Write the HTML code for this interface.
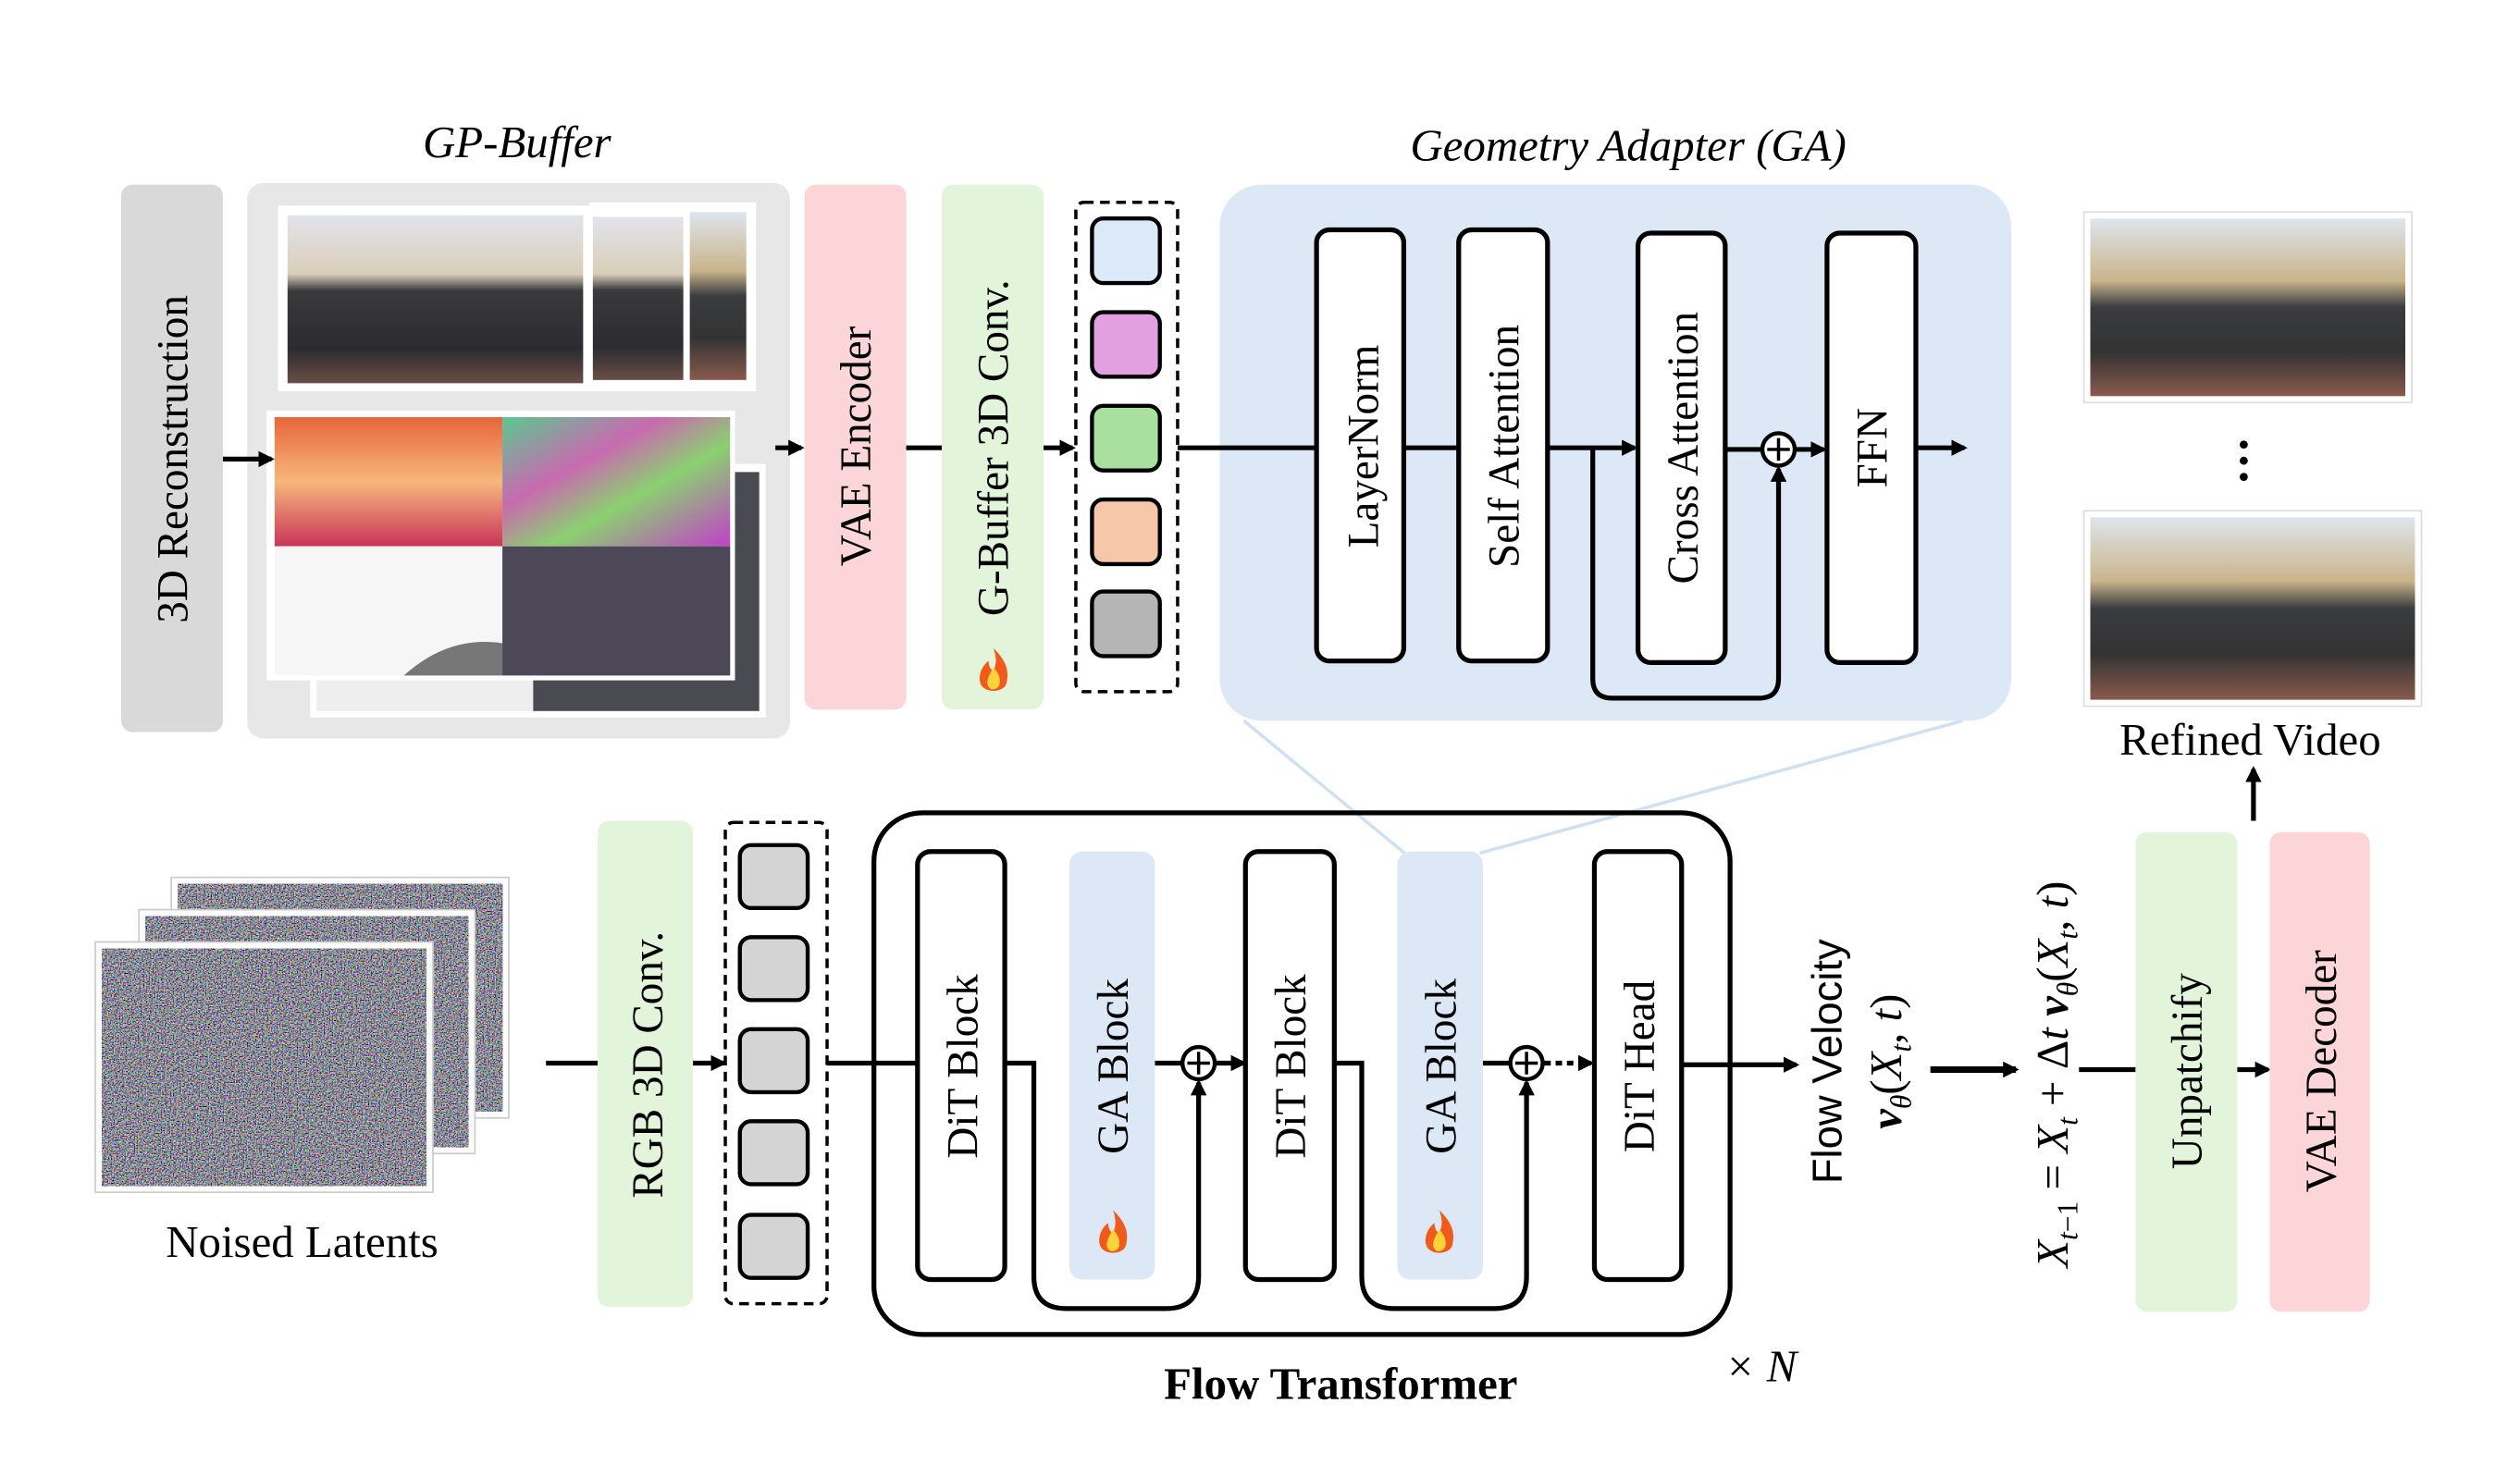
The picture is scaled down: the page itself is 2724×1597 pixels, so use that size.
<!DOCTYPE html>
<html><head><meta charset="utf-8"><style>
html,body{margin:0;padding:0;background:#fff;}
svg{display:block;}
text{font-family:"Liberation Serif",serif;fill:#000;}
</style></head><body>
<svg width="2724" height="1597" viewBox="0 0 1560 914" xmlns="http://www.w3.org/2000/svg">
<defs>
<marker id="ah" markerWidth="10" markerHeight="10" refX="8" refY="5" orient="auto" markerUnits="userSpaceOnUse"><path d="M0,0 L10,5 L0,10 Z" fill="#000"/></marker>
<linearGradient id="street" x1="0" y1="0" x2="0" y2="1">
<stop offset="0" stop-color="#e2e4ea"/><stop offset="0.35" stop-color="#d9cdb9"/><stop offset="0.45" stop-color="#3a3a3c"/><stop offset="0.8" stop-color="#2c2c30"/><stop offset="1" stop-color="#6a4e46"/></linearGradient>
<linearGradient id="street2" x1="0" y1="0" x2="0" y2="1">
<stop offset="0" stop-color="#dfe5ee"/><stop offset="0.35" stop-color="#c9b48a"/><stop offset="0.5" stop-color="#3b3c40"/><stop offset="0.75" stop-color="#333"/><stop offset="1" stop-color="#8a5a4e"/></linearGradient>
<linearGradient id="depth" x1="0" y1="0" x2="0" y2="1">
<stop offset="0" stop-color="#e8653a"/><stop offset="0.5" stop-color="#f6b77c"/><stop offset="1" stop-color="#c9345a"/></linearGradient>
<linearGradient id="normal" x1="0" y1="0" x2="1" y2="1">
<stop offset="0" stop-color="#5ac890"/><stop offset="0.35" stop-color="#c86ab0"/><stop offset="0.6" stop-color="#8bd070"/><stop offset="1" stop-color="#c040c8"/></linearGradient>
<filter id="noise" x="0" y="0" width="1" height="1" filterUnits="objectBoundingBox"><feTurbulence type="fractalNoise" baseFrequency="1.2" numOctaves="1" seed="3"/><feColorMatrix values="2.2 0 0 0 -0.8  0 2.2 0 0 -0.8  0 0 2.2 0 -0.75  0 0 0 0 1"/></filter>
<g id="flame"><path d="M0,-16 C8,-8 10,-2 8,6 C6,12 -6,12 -8,6 C-10,0 -6,-6 -3,-8 C-3,-4 -1,-2 0,-2 C2,-6 2,-10 0,-16 Z" fill="#f05a1a"/><path d="M0,-4 C4,0 5,5 3,8 C1,10 -2,10 -3,8 C-5,5 -3,1 0,-4 Z" fill="#ffd23a"/></g>
</defs>

<!-- Titles -->
<text x="320" y="97" font-size="28" font-style="italic" text-anchor="middle">GP-Buffer</text>
<text x="1008" y="99" font-size="28" font-style="italic" text-anchor="middle">Geometry Adapter (GA)</text>

<!-- 3D Reconstruction -->
<rect x="75" y="114" width="63" height="339" rx="7" fill="#d9d9d9"/>
<text transform="translate(116,284) rotate(-90)" font-size="27" text-anchor="middle">3D Reconstruction</text>

<!-- GP buffer panel -->
<rect x="153" y="113" width="336" height="344" rx="10" fill="#e7e7e7"/>
<rect x="365" y="125" width="103" height="117" fill="#fff"/>
<rect x="420" y="131" width="42" height="104" fill="url(#street2)"/>
<rect x="335" y="128" width="92" height="113" fill="#fff"/>
<rect x="365" y="134" width="58" height="101" fill="url(#street)"/>
<rect x="172" y="127" width="195" height="115" fill="#fff"/>
<rect x="178" y="133" width="183" height="104" fill="url(#street)"/>
<rect x="192" y="287" width="282" height="157" fill="#fff"/>
<rect x="330" y="292" width="140" height="148" fill="#4a4a52"/>
<rect x="196" y="420" width="134" height="20" fill="#eee"/>
<rect x="165" y="254" width="290" height="167" fill="#fff"/>
<rect x="170" y="258" width="141" height="80" fill="url(#depth)"/>
<rect x="311" y="258" width="141" height="80" fill="url(#normal)"/>
<rect x="170" y="338" width="141" height="80" fill="#f6f6f6"/>
<path d="M250,418 C270,400 290,395 311,398 L311,418 Z" fill="#777"/>
<rect x="311" y="338" width="141" height="80" fill="#4c4858"/>
<line x1="138" y1="284" x2="168" y2="284" stroke="#000" stroke-width="3" marker-end="url(#ah)"/>
<line x1="480" y1="277" x2="496" y2="277" stroke="#000" stroke-width="3" marker-end="url(#ah)"/>

<!-- VAE Encoder -->
<rect x="498" y="114" width="63" height="325" rx="7" fill="#fcd5d9"/>
<text transform="translate(539,276) rotate(-90)" font-size="27" text-anchor="middle">VAE Encoder</text>
<line x1="561" y1="277" x2="583" y2="277" stroke="#000" stroke-width="3"/>

<!-- G-Buffer 3D Conv -->
<rect x="583" y="114" width="63" height="325" rx="7" fill="#e2f5da"/>
<text transform="translate(624,277) rotate(-90)" font-size="27" text-anchor="middle">G-Buffer 3D Conv.</text>
<use href="#flame" x="615" y="417"/>
<line x1="646" y1="277" x2="664" y2="277" stroke="#000" stroke-width="3" marker-end="url(#ah)"/>

<!-- token box top -->
<rect x="666" y="125" width="63" height="303" rx="5" fill="none" stroke="#000" stroke-width="2" stroke-dasharray="6,4"/>
<rect x="676" y="135" width="42" height="40" rx="7" fill="#dbe9f8" stroke="#000" stroke-width="2.5"/>
<rect x="676" y="193" width="42" height="40" rx="7" fill="#e3a0e0" stroke="#000" stroke-width="2.5"/>
<rect x="676" y="251" width="42" height="40" rx="7" fill="#a9e0a0" stroke="#000" stroke-width="2.5"/>
<rect x="676" y="309" width="42" height="40" rx="7" fill="#f6c7a8" stroke="#000" stroke-width="2.5"/>
<rect x="676" y="366" width="42" height="40" rx="7" fill="#b5b5b5" stroke="#000" stroke-width="2.5"/>

<!-- GA panel -->
<line x1="770" y1="446" x2="872" y2="530" stroke="#cfe0f2" stroke-width="2"/>
<line x1="1215" y1="446" x2="916" y2="528" stroke="#cfe0f2" stroke-width="2"/>
<rect x="755" y="114" width="490" height="332" rx="26" fill="#dce8f5"/>
<g stroke="#000" stroke-width="3" fill="#fff">
<rect x="815" y="142" width="54" height="267" rx="8"/>
<rect x="903" y="142" width="55" height="267" rx="8"/>
<rect x="1014" y="144" width="54" height="266" rx="8"/>
<rect x="1131" y="144" width="55" height="266" rx="8"/>
</g>
<text transform="translate(853,276) rotate(-90)" font-size="27" text-anchor="middle">LayerNorm</text>
<text transform="translate(940,276) rotate(-90)" font-size="27" text-anchor="middle">Self  Attention</text>
<text transform="translate(1051,277) rotate(-90)" font-size="27" text-anchor="middle">Cross Attention</text>
<text transform="translate(1168,277) rotate(-90)" font-size="27" text-anchor="middle">FFN</text>
<g stroke="#000" stroke-width="3" fill="none">
<line x1="729" y1="277" x2="815" y2="277"/>
<line x1="869" y1="277" x2="903" y2="277"/>
<line x1="958" y1="277" x2="1012" y2="277" marker-end="url(#ah)"/>
<path d="M986,277 L986,420 Q986,432 998,432 L1089,432 Q1101,432 1101,420 L1101,290" marker-end="url(#ah)"/>
<line x1="1068" y1="278" x2="1090" y2="278"/>
<line x1="1112" y1="278" x2="1129" y2="278" marker-end="url(#ah)"/>
<line x1="1186" y1="277" x2="1216" y2="277" marker-end="url(#ah)"/>
<circle cx="1101" cy="278" r="10" fill="#fff" stroke-width="2.5"/>
<line x1="1094" y1="278" x2="1108" y2="278" stroke-width="2"/><line x1="1101" y1="271" x2="1101" y2="285" stroke-width="2"/>
</g>

<!-- Right images -->
<rect x="1290" y="131" width="203" height="118" fill="#fff" stroke="#ddd"/>
<rect x="1294" y="135" width="195" height="110" fill="url(#street2)"/>
<circle cx="1389" cy="275" r="2.5"/><circle cx="1389" cy="285" r="2.5"/><circle cx="1389" cy="295" r="2.5"/>
<rect x="1290" y="316" width="209" height="121" fill="#fff" stroke="#ddd"/>
<rect x="1294" y="320" width="201" height="113" fill="url(#street2)"/>
<text x="1393" y="467" font-size="28" text-anchor="middle">Refined Video</text>
<line x1="1395" y1="508" x2="1395" y2="476" stroke="#000" stroke-width="3" marker-end="url(#ah)"/>

<!-- Noised latents -->
<rect x="106" y="543" width="209" height="149" fill="#fff" stroke="#ccc"/>
<rect x="110" y="547" width="201" height="141" fill="#333" filter="url(#noise)"/>
<rect x="86" y="563" width="208" height="151" fill="#fff" stroke="#ccc"/>
<rect x="90" y="567" width="200" height="143" fill="#333" filter="url(#noise)"/>
<rect x="59" y="583" width="209" height="155" fill="#fff" stroke="#ccc"/>
<rect x="63" y="587" width="201" height="147" fill="#333" filter="url(#noise)"/>
<text x="187" y="778" font-size="28" text-anchor="middle">Noised Latents</text>
<line x1="338" y1="658" x2="370" y2="658" stroke="#000" stroke-width="3"/>

<!-- RGB 3D Conv -->
<rect x="370" y="508" width="59" height="301" rx="7" fill="#e2f5da"/>
<text transform="translate(410,659) rotate(-90)" font-size="27" text-anchor="middle">RGB 3D Conv.</text>
<line x1="429" y1="658" x2="448" y2="658" stroke="#000" stroke-width="3" marker-end="url(#ah)"/>

<rect x="449" y="509" width="63" height="298" rx="5" fill="none" stroke="#000" stroke-width="2" stroke-dasharray="6,4"/>
<g fill="#d4d4d4" stroke="#000" stroke-width="2.5">
<rect x="458" y="523" width="42" height="39" rx="7"/>
<rect x="458" y="580" width="42" height="39" rx="7"/>
<rect x="458" y="637" width="42" height="39" rx="7"/>
<rect x="458" y="694" width="42" height="39" rx="7"/>
<rect x="458" y="752" width="42" height="39" rx="7"/>
</g>

<!-- Flow transformer -->
<rect x="541" y="503" width="530" height="323" rx="30" fill="none" stroke="#000" stroke-width="3"/>
<rect x="662" y="527" width="53" height="265" rx="8" fill="#dce8f5"/>
<rect x="865" y="527" width="53" height="265" rx="8" fill="#dce8f5"/>
<g stroke="#000" stroke-width="3" fill="#fff">
<rect x="568" y="527" width="54" height="265" rx="8"/>
<rect x="771" y="527" width="55" height="265" rx="8"/>
<rect x="987" y="527" width="54" height="265" rx="8"/>
</g>
<text transform="translate(605,660) rotate(-90)" font-size="27" text-anchor="middle">DiT Block</text>
<text transform="translate(698,660) rotate(-90)" font-size="27" text-anchor="middle">GA Block</text>
<text transform="translate(808,660) rotate(-90)" font-size="27" text-anchor="middle">DiT Block</text>
<text transform="translate(901,660) rotate(-90)" font-size="27" text-anchor="middle">GA Block</text>
<text transform="translate(1024,660) rotate(-90)" font-size="27" text-anchor="middle">DiT Head</text>
<use href="#flame" x="689" y="765"/>
<use href="#flame" x="891" y="765"/>
<g stroke="#000" stroke-width="3" fill="none">
<line x1="512" y1="658" x2="568" y2="658"/>
<path d="M622,658 L640,658 L640,790 Q640,810 660,810 L722,810 Q742,810 742,790 L742,670" marker-end="url(#ah)"/>
<line x1="715" y1="658" x2="731" y2="658"/>
<line x1="753" y1="658" x2="770" y2="658" marker-end="url(#ah)"/>
<path d="M826,658 L843,658 L843,790 Q843,810 863,810 L925,810 Q945,810 945,790 L945,670" marker-end="url(#ah)"/>
<line x1="918" y1="658" x2="934" y2="658"/>
<line x1="956" y1="658" x2="985" y2="658" stroke-dasharray="4,3" marker-end="url(#ah)"/>
<line x1="1041" y1="659" x2="1112" y2="659" marker-end="url(#ah)"/>
<circle cx="742" cy="658" r="10" fill="#fff" stroke-width="2.5"/>
<line x1="735" y1="658" x2="749" y2="658" stroke-width="2"/><line x1="742" y1="651" x2="742" y2="665" stroke-width="2"/>
<circle cx="945" cy="658" r="10" fill="#fff" stroke-width="2.5"/>
<line x1="938" y1="658" x2="952" y2="658" stroke-width="2"/><line x1="945" y1="651" x2="945" y2="665" stroke-width="2"/>
</g>
<text x="830" y="866" font-size="28" font-weight="bold" text-anchor="middle">Flow Transformer</text>
<text x="1090" y="855" font-size="28" font-style="italic" text-anchor="middle">× N</text>

<!-- Flow velocity -->
<text transform="translate(1140,657) rotate(-90)" font-size="26" text-anchor="middle" style="font-family:'Liberation Sans',sans-serif">Flow Velocity</text>
<text transform="translate(1177,657) rotate(-90)" font-size="28" text-anchor="middle"><tspan font-weight="bold" font-style="italic">v</tspan><tspan font-size="18" dy="6" font-style="italic">θ</tspan><tspan dy="-6">(</tspan><tspan font-style="italic">X</tspan><tspan font-size="18" dy="6" font-style="italic">t</tspan><tspan dy="-6">, </tspan><tspan font-style="italic">t</tspan>)</text>
<line x1="1195" y1="662" x2="1248" y2="662" stroke="#000" stroke-width="4" marker-end="url(#ah)"/>

<!-- Equation -->
<text transform="translate(1280,665) rotate(-90)" font-size="28" text-anchor="middle"><tspan font-style="italic">X</tspan><tspan font-size="18" dy="6" font-style="italic">t</tspan><tspan font-size="18">−1</tspan><tspan dy="-6"> = </tspan><tspan font-style="italic">X</tspan><tspan font-size="18" dy="6" font-style="italic">t</tspan><tspan dy="-6"> + Δ</tspan><tspan font-style="italic">t </tspan><tspan font-weight="bold" font-style="italic">v</tspan><tspan font-size="18" dy="6" font-style="italic">θ</tspan><tspan dy="-6">(</tspan><tspan font-style="italic">X</tspan><tspan font-size="18" dy="6" font-style="italic">t</tspan><tspan dy="-6">, </tspan><tspan font-style="italic">t</tspan>)</text>
<line x1="1287" y1="662" x2="1322" y2="662" stroke="#000" stroke-width="3"/>

<rect x="1322" y="515" width="63" height="297" rx="7" fill="#e2f5da"/>
<text transform="translate(1363,663) rotate(-90)" font-size="27" text-anchor="middle">Unpatchify</text>
<line x1="1385" y1="662" x2="1404" y2="662" stroke="#000" stroke-width="3" marker-end="url(#ah)"/>
<rect x="1405" y="515" width="62" height="297" rx="7" fill="#fcd5d9"/>
<text transform="translate(1446,663) rotate(-90)" font-size="27" text-anchor="middle">VAE Decoder</text>
</svg>
</body></html>
